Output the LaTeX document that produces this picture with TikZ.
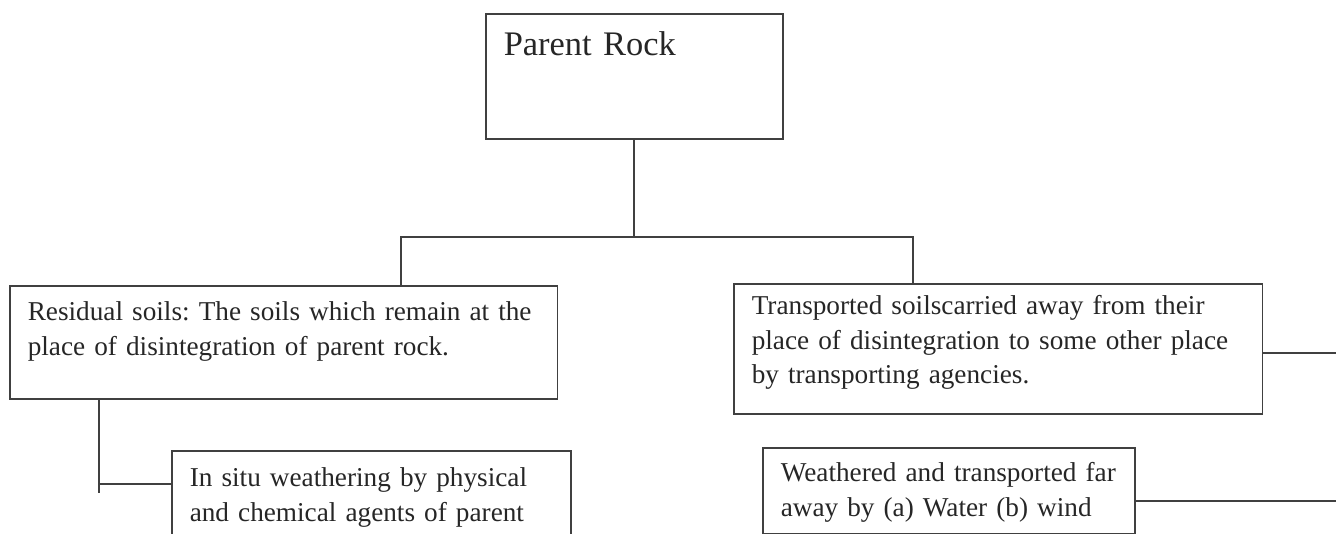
\documentclass[tikz,border=0pt]{standalone}
\usepackage{fontspec}
\setmainfont{Liberation Serif}
\frenchspacing
\begin{document}
\begin{tikzpicture}[x=0.02cm, y=-0.02cm,
  every node/.style={font=\fontsize{15.5}{19.5}\selectfont, text=black!85},
  soilbox/.style={draw=black!75, line width=0.9pt, anchor=north west, align=left, inner xsep=0.36cm, inner ysep=0pt},
  link/.style={draw=black!75, line width=0.9pt}]
  \clip (0,0) rectangle (1336,534);

  \node[soilbox, font=\fontsize{19.6}{24}\selectfont, text width=5.22cm, text height=0.84cm, text depth=1.66cm] (rock) at (485,13)
  {Parent Rock};

  \node[soilbox, text width=10.24cm, text height=0.70cm, text depth=1.56cm] (resid) at (9,285)
  {Residual soils: The soils which remain at the\\ place of disintegration of parent rock.};

  \node[soilbox, text width=9.86cm, text height=0.62cm, text depth=1.98cm] (trans) at (733,283)
  {Transported soilscarried away from their\\ place of disintegration to some other place\\ by transporting agencies.};

  \node[soilbox, text width=7.26cm, text height=0.72cm, text depth=1.88cm] (insitu) at (171,450)
  {In situ weathering by physical\\ and chemical agents of parent};

  \node[soilbox, text width=6.72cm, text height=0.68cm, text depth=1.04cm] (weath) at (762,447)
  {Weathered and transported far\\ away by (a) Water (b) wind};

  \coordinate (barL) at (401,237);
  \coordinate (barR) at (913,237);
  \coordinate (ljoin) at (99,484);
  \coordinate (ltail) at (99,493);
  \coordinate (rimA) at (1336,353);
  \coordinate (rimB) at (1336,501);

  \draw[link] (rock.south) -- (rock.south |- barL);
  \draw[link] (barL |- resid.north) -- (barL) -- (barR) -- (barR |- trans.north);
  \draw[link] (resid.south -| ltail) -- (ltail);
  \draw[link] (ljoin) -- (ljoin -| insitu.west);
  \draw[link] (rimA -| trans.east) -- (rimA);
  \draw[link] (rimB -| weath.east) -- (rimB);
\end{tikzpicture}
\end{document}
